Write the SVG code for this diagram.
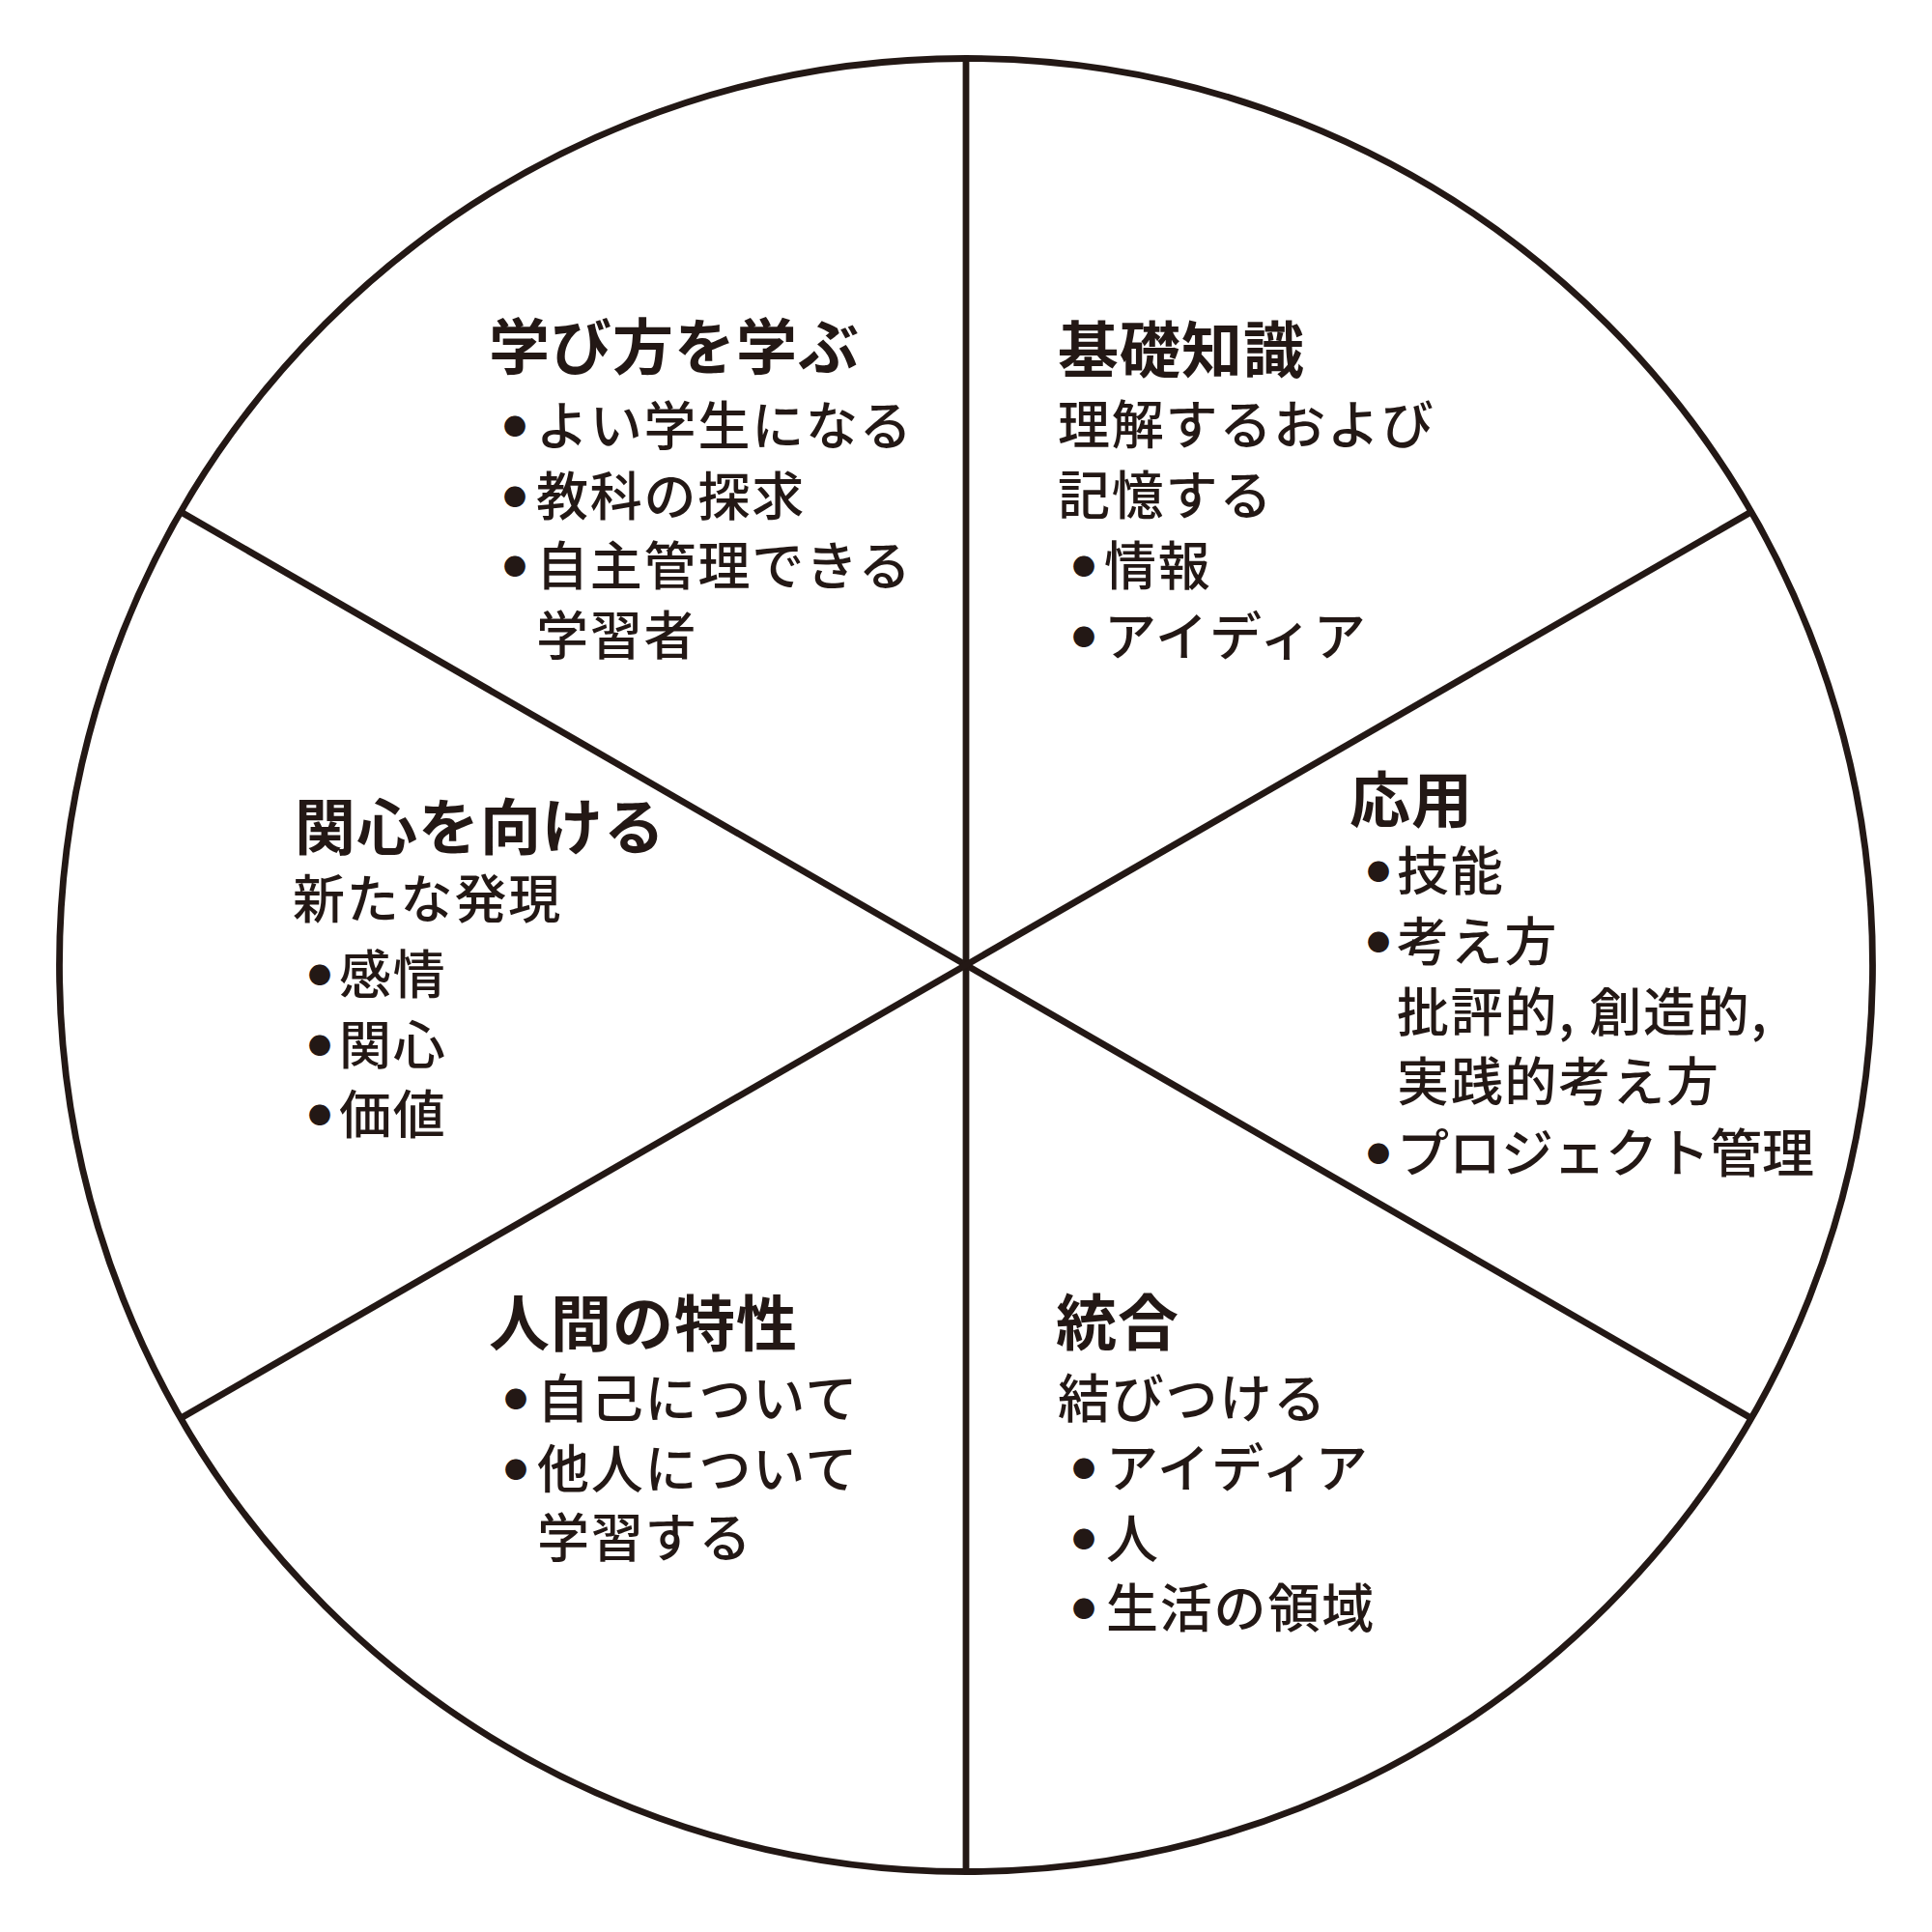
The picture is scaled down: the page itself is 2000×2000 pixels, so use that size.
<svg xmlns="http://www.w3.org/2000/svg" width="2000" height="2000" viewBox="0 0 2000 2000">
<style>
.t{font-family:"Noto Sans CJK JP","Noto Sans CJK SC",sans-serif;font-size:63px;font-weight:700;fill:#231815;letter-spacing:1px}
.b{font-family:"Noto Sans CJK JP","Noto Sans CJK SC",sans-serif;font-size:54px;font-weight:500;fill:#231815;letter-spacing:1.8px}
.d{font-size:24px;letter-spacing:0}
.ln{stroke:#231815;stroke-width:6.8;fill:none}
</style>
<rect width="2000" height="2000" fill="#ffffff"/>
<g id="wheel">
<circle class="ln" cx="1000" cy="999" r="938.5"/>
</g>
<g id="connectors">
<line class="ln" x1="1000" y1="61" x2="1000" y2="1937"/>
<line class="ln" x1="187.3" y1="530" x2="1812.7" y2="1468"/>
<line class="ln" x1="187.3" y1="1468" x2="1812.7" y2="530"/>
</g>
<g id="learning-how-to-learn">
<text class="t" x="506" y="382">学び方を学ぶ</text>
<text class="b" y="461"><tspan class="d" x="521" dy="-11.5">●</tspan><tspan x="555" dy="11.5">よい学生になる</tspan></text>
<text class="b" y="534"><tspan class="d" x="521" dy="-11.5">●</tspan><tspan x="555" dy="11.5">教科の探求</tspan></text>
<text class="b" y="606"><tspan class="d" x="521" dy="-11.5">●</tspan><tspan x="555" dy="11.5">自主管理できる</tspan></text>
<text class="b" x="555" y="678">学習者</text>
</g>
<g id="foundational-knowledge">
<text class="t" x="1095" y="385">基礎知識</text>
<text class="b" x="1095" y="460">理解するおよび</text>
<text class="b" x="1095" y="533">記憶する</text>
<text class="b" y="606"><tspan class="d" x="1110" dy="-11.5">●</tspan><tspan x="1143" dy="11.5">情報</tspan></text>
<text class="b" y="679"><tspan class="d" x="1110" dy="-11.5">●</tspan><tspan x="1143" dy="11.5">アイディア</tspan></text>
</g>
<g id="application">
<text class="t" x="1397" y="851">応用</text>
<text class="b" y="922"><tspan class="d" x="1415" dy="-11.5">●</tspan><tspan x="1446" dy="11.5">技能</tspan></text>
<text class="b" y="995"><tspan class="d" x="1415" dy="-11.5">●</tspan><tspan x="1446" dy="11.5">考え方</tspan></text>
<text class="b" x="1446" y="1068">批評的, 創造的,</text>
<text class="b" x="1446" y="1140">実践的考え方</text>
<text class="b" y="1214" style="letter-spacing:0px"><tspan class="d" x="1415" dy="-11.5">●</tspan><tspan x="1446" dy="11.5">プロジェクト管理</tspan></text>
</g>
<g id="caring">
<text class="t" x="305" y="879">関心を向ける</text>
<text class="b" x="303" y="951">新たな発現</text>
<text class="b" y="1029"><tspan class="d" x="319" dy="-11.5">●</tspan><tspan x="351" dy="11.5">感情</tspan></text>
<text class="b" y="1102"><tspan class="d" x="319" dy="-11.5">●</tspan><tspan x="351" dy="11.5">関心</tspan></text>
<text class="b" y="1174"><tspan class="d" x="319" dy="-11.5">●</tspan><tspan x="351" dy="11.5">価値</tspan></text>
</g>
<g id="human-dimension">
<text class="t" x="506" y="1393">人間の特性</text>
<text class="b" y="1468"><tspan class="d" x="522" dy="-11.5">●</tspan><tspan x="556" dy="11.5">自己について</tspan></text>
<text class="b" y="1541"><tspan class="d" x="522" dy="-11.5">●</tspan><tspan x="556" dy="11.5">他人について</tspan></text>
<text class="b" x="556" y="1612">学習する</text>
</g>
<g id="integration">
<text class="t" x="1093" y="1392">統合</text>
<text class="b" x="1095" y="1468">結びつける</text>
<text class="b" y="1540"><tspan class="d" x="1110" dy="-11.5">●</tspan><tspan x="1145" dy="11.5">アイディア</tspan></text>
<text class="b" y="1613"><tspan class="d" x="1110" dy="-11.5">●</tspan><tspan x="1145" dy="11.5">人</tspan></text>
<text class="b" y="1685"><tspan class="d" x="1110" dy="-11.5">●</tspan><tspan x="1145" dy="11.5">生活の領域</tspan></text>
</g>
</svg>
